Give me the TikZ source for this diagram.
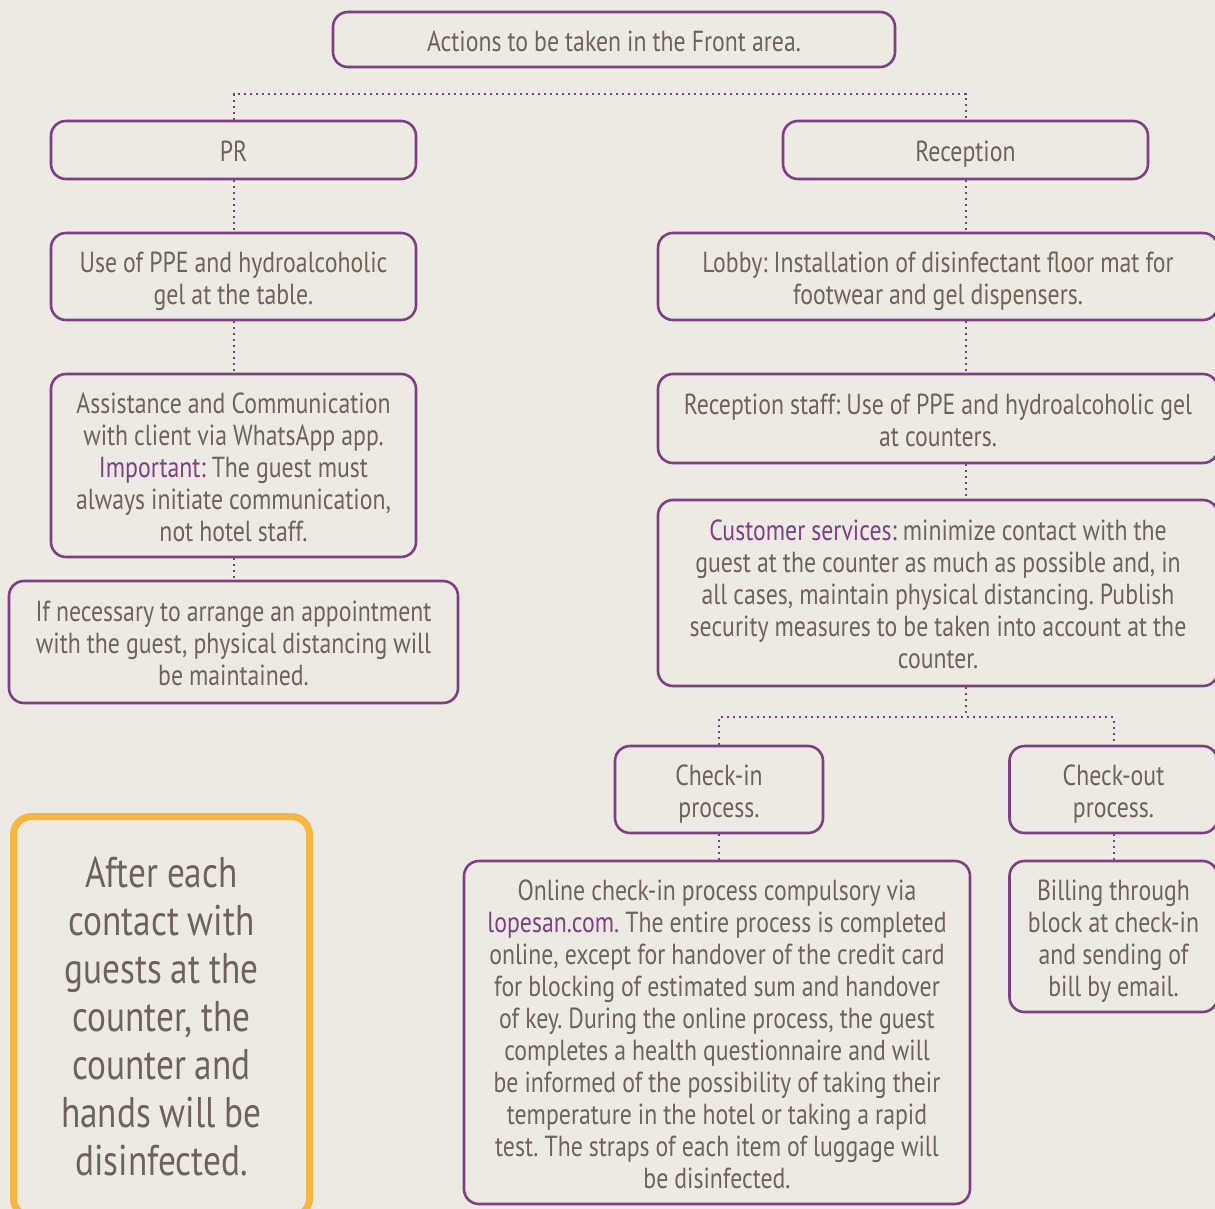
\documentclass[tikz,border=0pt]{standalone}
\usepackage{fontspec}
\setmainfont{PT Sans}[FakeStretch=0.82, WordSpace=0.95]
\usetikzlibrary{positioning}
\definecolor{bgbeige}{HTML}{EDEAE4}
\definecolor{plum}{HTML}{7E3F83}
\definecolor{txtbrown}{HTML}{6E6259}
\definecolor{amber}{HTML}{F7B63F}
\newcommand{\hl}[1]{\textcolor{plum}{#1}}

\begin{document}
\begin{tikzpicture}[
    x=0.5pt, y=-0.5pt,
    box/.style 2 args={draw=plum, line width=1.3pt, rounded corners=7.5pt,
        text=txtbrown, align=flush center, inner sep=0pt,
        minimum width=#1, text width=#1, minimum height=#2,
        font=\fontsize{14.5}{16}\selectfont\frenchspacing,
        execute at begin node={\rule{0pt}{15.5pt}},
        execute at end node={\rule[-3.8pt]{0pt}{3.8pt}}},
    bigbox/.style={draw=amber, line width=3.5pt, rounded corners=9pt,
        text=txtbrown, align=center, inner sep=0pt,
        font=\fontsize{21.5}{24}\selectfont\frenchspacing},
    link/.style={plum, line width=1pt, dotted}
    ]

\useasboundingbox (0,0) rectangle (1215,1209);
\fill[bgbeige] (0,0) rectangle (1215,1209);

% top
\node[box={281pt}{27.5pt}] (front) at (614,39.5)
    {Actions to be taken in the Front area.};

% PR column
\node[box={182.5pt}{29pt}] (pr) at (233.5,150) {PR};
\node[box={182.5pt}{43.5pt}] (ppe) at (233.5,276.5)
    {Use of PPE and hydroalcoholic\\gel at the table.};
\node[box={182.5pt}{91.5pt}] (assist) at (233.5,465.5)
    {Assistance and Communication\\with client via WhatsApp app.\\\hl{Important:} The guest must\\always initiate communication,\\not hotel staff.};
\node[box={224.5pt}{61pt}] (appoint) at (233.5,642)
    {If necessary to arrange an appointment\\with the guest, physical distancing will\\be maintained.};

% Reception column
\node[box={182.5pt}{29pt}] (reception) at (965.5,150) {Reception};
\node[box={280pt}{43.5pt}] (lobby) at (938,276.5)
    {Lobby: Installation of disinfectant floor mat for\\footwear and gel dispensers.};
\node[box={280pt}{44.5pt}] (staff) at (938,418.5)
    {Reception staff: Use of PPE and hydroalcoholic gel\\at counters.};
\node[box={280pt}{93pt}] (custserv) at (938,593)
    {\hl{Customer services:} minimize contact with the\\guest at the counter as much as possible and, in\\all cases, maintain physical distancing. Publish\\security measures to be taken into account at the\\counter.};

\node[box={104pt}{43.5pt}] (checkin) at (719,789.5)
    {Check-in\\process.};
\node[box={104pt}{43.5pt}] (checkout) at (1113.5,789.5)
    {Check-out\\process.};
\node[box={253pt}{171.5pt}] (online) at (717,1032.5)
    {Online check-in process compulsory via\\\hl{lopesan.com}. The entire process is completed\\online, except for handover of the credit card\\for blocking of estimated sum and handover\\of key. During the online process, the guest\\completes a health questionnaire and will\\be informed of the possibility of taking their\\temperature in the hotel or taking a rapid\\test. The straps of each item of luggage will\\be disinfected.};
\node[box={104pt}{75.5pt}] (billing) at (1113.5,936.5)
    {Billing through\\block at check-in\\and sending of\\bill by email.};

% reminder
\node[bigbox, minimum width=148pt, minimum height=200pt] (reminder) at (161.5,1016.5)
    {After each\\contact with\\guests at the\\counter, the\\counter and\\hands will be\\disinfected.};

% connectors
\coordinate (fork) at (614,94);
\draw[link] (pr.north) |- (fork) -| (reception.north);
\draw[link] (pr.south) -- (ppe.north);
\draw[link] (ppe.south) -- (assist.north);
\draw[link] (assist.south) -- (appoint.north);

\draw[link] (reception.south) -- (reception.south |- lobby.north);
\draw[link] (reception.south |- lobby.south) -- (reception.south |- staff.north);
\draw[link] (reception.south |- staff.south) -- (reception.south |- custserv.north);

\coordinate (split) at (965.5,717);
\draw[link] (reception.south |- custserv.south) -- (split);
\draw[link] (checkin.north) |- (split) -| (checkout.north);
\draw[link] (checkin.south) -- (checkin.south |- online.north);
\draw[link] (checkout.south) -- (billing.north);

\end{tikzpicture}
\end{document}
